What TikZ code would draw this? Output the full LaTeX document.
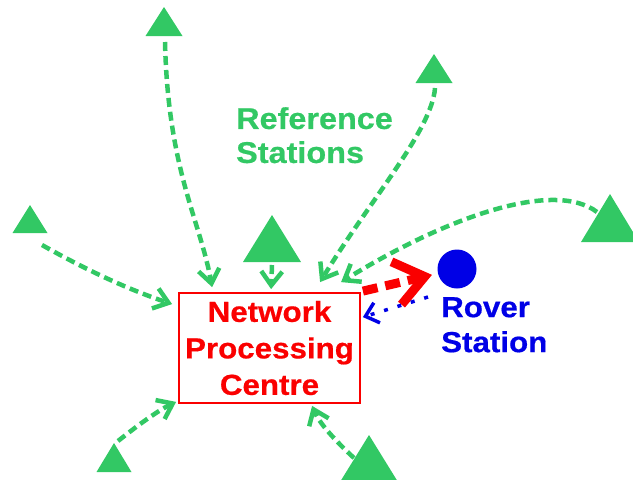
\documentclass[tikz,border=0pt]{standalone}
\usepackage{fontspec}
\setmainfont{Liberation Sans}
\newfontfamily\lblfont[FakeStretch=1.08,FakeBold=0.6]{Liberation Sans}
\usetikzlibrary{arrows.meta}
\definecolor{refgreen}{RGB}{50,200,100}
\definecolor{ncred}{RGB}{250,0,0}
\definecolor{roverblue}{RGB}{0,0,230}
\tikzset{
  refsym/.style={fill=refgreen},
  reflink/.style={draw=refgreen, line width=4.5pt, dash pattern=on 9pt off 5pt,
    -{Straight Barb[length=14pt,width=21pt]}},
  redlink/.style={draw=ncred, line width=9pt, dash pattern=on 15pt off 8pt,
    -{Straight Barb[length=29pt,width=44pt]}},
  bluelink/.style={draw=roverblue, line width=3.5pt, dash pattern=on 4pt off 10pt,
    -{Straight Barb[length=12pt,width=21pt]}},
  ncbox/.style={draw=ncred, line width=1.8pt, minimum width=181pt, minimum height=110pt,
    inner sep=0pt, align=center, text=ncred,
    font=\lblfont\bfseries\fontsize{29pt}{36.5pt}\selectfont},
  reftext/.style={anchor=north west, inner sep=0pt, align=left, text=refgreen,
    font=\lblfont\bfseries\fontsize{30pt}{34pt}\selectfont},
  rovertext/.style={anchor=north west, inner sep=0pt, align=left, text=roverblue,
    font=\lblfont\bfseries\fontsize{29pt}{35pt}\selectfont},
}
\begin{document}
\begin{tikzpicture}[x=1pt,y=-1pt]
\useasboundingbox (0,0) rectangle (633,480);

% reference station triangles
\fill[refsym] (164,7) -- (182.5,36) -- (145.5,36) -- cycle;
\fill[refsym] (434,54) -- (452.5,83) -- (415.5,83) -- cycle;
\fill[refsym] (30,205) -- (47.5,233) -- (12.5,233) -- cycle;
\fill[refsym] (272,215) -- (301,262) -- (243,262) -- cycle;
\fill[refsym] (610,194) -- (639,242) -- (581,242) -- cycle;
\fill[refsym] (114,443) -- (131.5,472) -- (96.5,472) -- cycle;
\fill[refsym] (369,435) -- (398,482) -- (340,482) -- cycle;

\coordinate (t1) at (165,42);
\coordinate (t2) at (435,88);
\coordinate (t3) at (42,245);
\coordinate (t4) at (272,265);
\coordinate (t5) at (597,212);
\coordinate (t6) at (118,441);
\coordinate (t7) at (354,458);

% nodes
\node[ncbox] (box) at (269.5,348) {Network\\Processing\\Centre};
\node[circle, fill=roverblue, minimum size=39pt, inner sep=0pt] (rover) at (457,269) {};
\node[reftext] (reflabel) at (236,107) {Reference\\Stations};
\node[rovertext] (roverlabel) at (441,297) {Rover\\Station};
\coordinate (bstart) at (428,297);

% connectors
\draw[reflink] (t1) .. controls (168,170) and (200,220) .. ([shift={(34pt,5pt)}]box.north west);
\draw[reflink] (t4) -- ([shift={(93pt,3pt)}]box.north west);
\draw[reflink] (t2) .. controls (432,130) and (370,200) .. ([shift={(142pt,10pt)}]box.north west);
\draw[reflink] (t5) .. controls (555,180) and (450,215) .. ([shift={(163pt,10pt)}]box.north west);
\draw[reflink] (t3) .. controls (90,272) and (130,290) .. ([shift={(-6pt,-12pt)}]box.north west);
\draw[reflink] (t6) .. controls (132,430) and (155,412) .. ([shift={(-2pt,2pt)}]box.south west);
\draw[reflink] (t7) .. controls (340,445) and (320,425) .. ([shift={(134pt,-2pt)}]box.south west);

\draw[redlink, shorten >=6pt] ([shift={(2pt,1pt)}]box.north east) -- (rover);
\draw[bluelink] (bstart) -- ([shift={(2pt,-25pt)}]box.north east);
\end{tikzpicture}
\end{document}
